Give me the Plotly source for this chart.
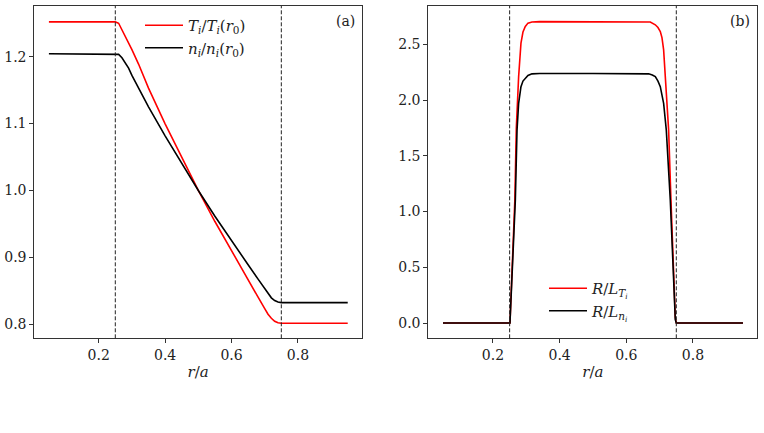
import plotly.graph_objects as go

# ---------------- data ----------------
r_prof = [0.05, 0.10, 0.15, 0.20, 0.25, 0.26, 0.27, 0.28, 0.29, 0.30, 0.32, 0.35,
          0.40, 0.45, 0.50, 0.55, 0.60, 0.65, 0.68, 0.70, 0.71, 0.72, 0.73, 0.74,
          0.75, 0.80, 0.85, 0.90, 0.95]
T_prof = [1.252, 1.252, 1.252, 1.252, 1.252, 1.250, 1.2405, 1.2305, 1.220, 1.2105, 1.189, 1.153,
          1.0997, 1.0486, 1.000, 0.9536, 0.9094, 0.8672, 0.8405, 0.8235, 0.8150, 0.8090, 0.8045, 0.8022,
          0.8015, 0.8015, 0.8015, 0.8015, 0.8015]
n_prof = [1.2045, 1.2045, 1.2045, 1.2045, 1.2045, 1.2035, 1.1985, 1.1915, 1.1830, 1.172, 1.153, 1.125,
          1.0817, 1.040, 1.000, 0.9615, 0.9245, 0.8889, 0.8675, 0.8525, 0.8455, 0.8395, 0.8355, 0.8332,
          0.8323, 0.8323, 0.8323, 0.8323, 0.8323]

r_LT = [0.05, 0.25, 0.251, 0.2656, 0.2686, 0.270, 0.277, 0.284, 0.290, 0.297, 0.305, 0.317, 0.34,
        0.50, 0.66, 0.672, 0.687, 0.695, 0.702, 0.707, 0.712, 0.717, 0.722, 0.727, 0.734, 0.747,
        0.75, 0.95]
RLT = [0.0, 0.0, 0.0, 1.10, 1.55, 1.75, 2.21, 2.51, 2.61, 2.66, 2.69, 2.70, 2.703,
       2.703, 2.703, 2.70, 2.675, 2.65, 2.615, 2.56, 2.45, 2.21, 1.97, 1.73, 1.10, 0.05,
       0.0, 0.0]

r_Ln = [0.05, 0.25, 0.251, 0.2671, 0.271, 0.2722, 0.277, 0.284, 0.290, 0.297, 0.305, 0.317, 0.34,
        0.50, 0.66, 0.667, 0.678, 0.687, 0.695, 0.702, 0.712, 0.717, 0.720, 0.732, 0.747,
        0.75, 0.95]
RLn = [0.0, 0.0, 0.0, 1.10, 1.55, 1.73, 1.97, 2.12, 2.17, 2.197, 2.22, 2.235, 2.238,
       2.238, 2.238, 2.235, 2.225, 2.21, 2.17, 2.12, 1.97, 1.82, 1.73, 1.10, 0.03,
       0.0, 0.0]

boundaries = [0.25, 0.75]
x_ticks = [0.2, 0.4, 0.6, 0.8]
y1_ticks = [0.8, 0.9, 1.0, 1.1, 1.2]
y2_ticks = [0.0, 0.5, 1.0, 1.5, 2.0, 2.5]

# ---------------- figure ----------------
FONT = "DejaVu Serif"
W, H = 764, 433
RED = "#ff0000"
BLACK = "#000000"
AXC = "#333333"
TXT = "#222222"

fig = go.Figure()

fig.add_trace(go.Scatter(x=r_prof, y=T_prof, mode="lines", line=dict(color=RED, width=1.6),
                         name="<i>T<sub>i</sub></i>/<i>T<sub>i</sub></i>(<i>r</i><sub>0</sub>)",
                         xaxis="x", yaxis="y", legend="legend"))
fig.add_trace(go.Scatter(x=r_prof, y=n_prof, mode="lines", line=dict(color=BLACK, width=1.6),
                         name="<i>n<sub>i</sub></i>/<i>n<sub>i</sub></i>(<i>r</i><sub>0</sub>)",
                         xaxis="x", yaxis="y", legend="legend"))
fig.add_trace(go.Scatter(x=r_LT, y=RLT, mode="lines", line=dict(color=RED, width=1.6),
                         name="<i>R</i>/<i>L<sub>T<sub>i</sub></sub></i>",
                         xaxis="x2", yaxis="y2", legend="legend2"))
fig.add_trace(go.Scatter(x=r_Ln, y=RLn, mode="lines", line=dict(color=BLACK, width=1.6),
                         name="<i>R</i>/<i>L<sub>n<sub>i</sub></sub></i>",
                         xaxis="x2", yaxis="y2", legend="legend2"))

shapes = []
for xr in ["x", "x2"]:
    for b in boundaries:
        shapes.append(dict(type="line", xref=xr, yref="y domain" if xr == "x" else "y2 domain",
                           x0=b, x1=b, y0=0, y1=1,
                           line=dict(color="#222222", width=1, dash="4px,2px")))

ydom = [(H - 338.3) / H, (H - 6) / H]
common_x = dict(range=[0.006, 0.993], tickvals=x_ticks, tickformat=".1f", showgrid=False,
                zeroline=False, showline=True, linecolor=AXC, linewidth=1, mirror=True,
                ticks="outside", ticklen=4, tickcolor=AXC, automargin=False,
                tickfont=dict(family=FONT, size=14, color=TXT),
                title=dict(text="<i>r</i>/<i>a</i>", font=dict(family=FONT, size=15, color=TXT),
                           standoff=4))
common_y = dict(showgrid=False, zeroline=False, showline=True, linecolor=AXC, linewidth=1,
                mirror=True, ticks="outside", ticklen=4, tickcolor=AXC, automargin=False,
                tickformat=".1f", tickfont=dict(family=FONT, size=14, color=TXT))

fig.update_layout(
    width=W, height=H, margin=dict(l=0, r=0, t=0, b=0),
    paper_bgcolor="white", plot_bgcolor="white",
    font=dict(family=FONT, size=15, color=TXT),
    xaxis=dict(domain=[34.3 / W, 362 / W], anchor="y", **common_x),
    yaxis=dict(domain=ydom, anchor="x", range=[0.779, 1.2758], tickvals=y1_ticks, **common_y),
    xaxis2=dict(domain=[428.3 / W, 757.3 / W], anchor="y2", **common_x),
    yaxis2=dict(domain=ydom, anchor="x2", range=[-0.137, 2.8435], tickvals=y2_ticks, **common_y),
    shapes=shapes,
    showlegend=True,
    legend=dict(x=140 / W, y=1 - 9 / H, xanchor="left", yanchor="top", itemwidth=38,
                bgcolor="rgba(255,255,255,0)", font=dict(family=FONT, size=15, color=TXT),
                tracegroupgap=0),
    legend2=dict(x=544 / W, y=1 - 272 / H, xanchor="left", yanchor="top", itemwidth=38,
                 bgcolor="rgba(255,255,255,0)", font=dict(family=FONT, size=15, color=TXT),
                 tracegroupgap=0),
    annotations=[
        dict(text="(a)", xref="x domain", yref="y domain", x=0.985, y=0.985,
             xanchor="right", yanchor="top", showarrow=False,
             font=dict(family=FONT, size=14, color=TXT)),
        dict(text="(b)", xref="x2 domain", yref="y2 domain", x=0.985, y=0.985,
             xanchor="right", yanchor="top", showarrow=False,
             font=dict(family=FONT, size=14, color=TXT)),
    ],
)

fig.write_html("out.html")
